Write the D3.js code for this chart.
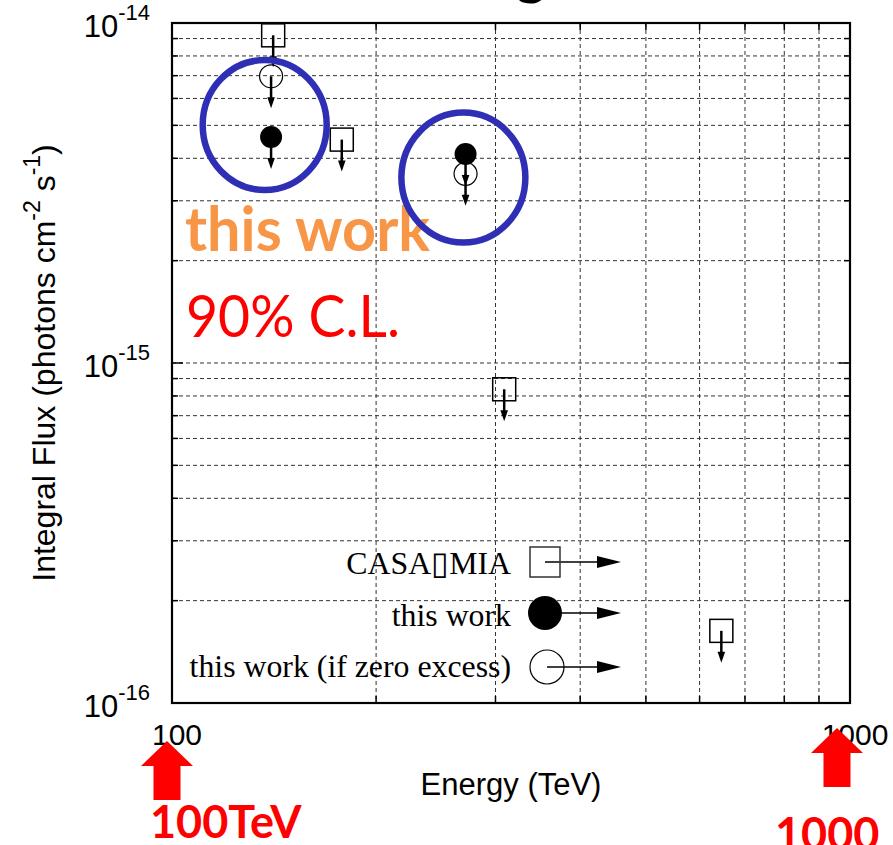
<!DOCTYPE html>
<html><head><meta charset="utf-8">
<script src="https://cdn.jsdelivr.net/npm/d3@7"></script>
<style>html,body{margin:0;padding:0;background:#fff;} svg{display:block;}</style>
</head><body><svg id="chart" width="893" height="845"></svg>
<script>
// Integral flux upper limits (photons cm^-2 s^-1) versus threshold energy (TeV)
const casaEnergy = [141, 178, 309, 646];
const casaFlux = [9.2e-15, 4.54e-15, 8.37e-16, 1.63e-16];
const workEnergy = [140, 271];
const workFlux = [4.62e-15, 4.12e-15];
const zeroEnergy = [140, 271];
const zeroFlux = [6.97e-15, 3.6e-15];

const xDomain = [100, 1000];
const yDomain = [1e-16, 1e-14];
const xTickValues = [100, 1000];
const yTickExponents = [-14, -15, -16];
const legendLabels = ["CASA\u25AFMIA", "this work", "this work (if zero excess)"];

// highlighted results and threshold call-outs
const highlightEnergy = [137, 269];
const highlightFlux = [5.01e-15, 3.51e-15];
const calloutEnergy = [100, 1000];
const calloutLabels = ["100TeV", "1000"];

const svg = d3.select("#chart");
const m = {left: 172, top: 23, right: 850, bottom: 703};

const x = d3.scaleLog().domain(xDomain).range([m.left, m.right]);
const y = d3.scaleLog().domain(yDomain).range([m.bottom, m.top]);

const xMinor = d3.range(2, 10).map(d => d * 100);
const yGrid = [];
for (let e = -16; e < -14; e++) for (let k = 1; k < 10; k++) yGrid.push(k * Math.pow(10, e));
const yGridInner = yGrid.filter(v => v > yDomain[0] * 1.0001);

// dashed grid
const grid = svg.append("g").attr("stroke", "#333").attr("stroke-width", 1).attr("stroke-dasharray", "4,3");
grid.selectAll("line.v").data(xMinor).join("line")
  .attr("x1", d => x(d)).attr("x2", d => x(d)).attr("y1", m.top).attr("y2", m.bottom);
grid.selectAll("line.h").data(yGridInner).join("line")
  .attr("y1", d => y(d)).attr("y2", d => y(d)).attr("x1", m.left).attr("x2", m.right);

// tick marks on all four sides
const isMajorY = v => Math.abs(Math.log10(v) - Math.round(Math.log10(v))) < 1e-6;
const ticks = svg.append("g").attr("stroke", "#000").attr("stroke-width", 1.5);
ticks.selectAll("line.yl").data(yGridInner).join("line")
  .attr("x1", m.left).attr("x2", d => m.left + (isMajorY(d) ? 11 : 6))
  .attr("y1", d => y(d)).attr("y2", d => y(d));
ticks.selectAll("line.yr").data(yGridInner).join("line")
  .attr("x1", m.right).attr("x2", d => m.right - (isMajorY(d) ? 11 : 6))
  .attr("y1", d => y(d)).attr("y2", d => y(d));
ticks.selectAll("line.xb").data(xMinor).join("line")
  .attr("x1", d => x(d)).attr("x2", d => x(d)).attr("y1", m.bottom).attr("y2", m.bottom - 7);
ticks.selectAll("line.xt").data(xMinor).join("line")
  .attr("x1", d => x(d)).attr("x2", d => x(d)).attr("y1", m.top).attr("y2", m.top + 7);

// frame
svg.append("rect").attr("x", m.left).attr("y", m.top)
  .attr("width", m.right - m.left).attr("height", m.bottom - m.top)
  .attr("fill", "none").attr("stroke", "#000").attr("stroke-width", 2.2);

// tick labels
const tickFont = "'Liberation Sans', Arial, sans-serif";
yTickExponents.forEach(e => {
  const t = svg.append("text").attr("x", 150).attr("y", y(Math.pow(10, e)) + 14)
    .attr("text-anchor", "end").attr("font-family", tickFont).attr("font-size", 31).attr("fill", "#000");
  t.append("tspan").text("10");
  t.append("tspan").attr("font-size", 22).attr("dy", -17).text(String(e));
});
svg.selectAll("text.xt").data(xTickValues).join("text")
  .attr("x", d => x(d) + 5).attr("y", 745).attr("text-anchor", "middle")
  .attr("font-family", tickFont).attr("font-size", 30).attr("fill", "#000").text(d => d);

// axis titles
svg.append("text").attr("x", (m.left + m.right) / 2).attr("y", 795).attr("text-anchor", "middle")
  .attr("font-family", tickFont).attr("font-size", 31).text("Energy (TeV)");
const yl = svg.append("text").attr("transform", `translate(55,${(m.top + m.bottom) / 2}) rotate(-90)`)
  .attr("text-anchor", "middle").attr("font-family", tickFont).attr("font-size", 32);
yl.append("tspan").text("Integral Flux (photons cm");
yl.append("tspan").attr("font-size", 23).attr("dy", -15).text("-2");
yl.append("tspan").attr("dy", 15).text(" s");
yl.append("tspan").attr("font-size", 23).attr("dy", -15).text("-1");
yl.append("tspan").attr("dy", 15).text(")");

// downward upper-limit arrow
function downArrow(g, cx, cy) {
  const len = 32, head = 11, hw = 3.8;
  g.append("line").attr("x1", cx).attr("x2", cx).attr("y1", cy).attr("y2", cy + len - head + 1)
    .attr("stroke", "#000").attr("stroke-width", 2.5);
  g.append("path").attr("d", `M${cx - hw},${cy + len - head} L${cx + hw},${cy + len - head} L${cx},${cy + len} Z`)
    .attr("fill", "#000");
}
function rightArrow(g, cx, cy, x2) {
  g.append("line").attr("x1", cx).attr("x2", x2 - 20).attr("y1", cy).attr("y2", cy)
    .attr("stroke", "#000").attr("stroke-width", 1.5);
  g.append("path").attr("d", `M${x2 - 24},${cy - 6} L${x2},${cy} L${x2 - 24},${cy + 6} Z`).attr("fill", "#000");
}

const pts = svg.append("g");
// CASA-MIA squares
casaEnergy.forEach((e, i) => {
  const cx = x(e), cy = y(casaFlux[i]);
  pts.append("rect").attr("x", cx - 11.5).attr("y", cy - 11.5).attr("width", 23).attr("height", 23)
    .attr("fill", "none").attr("stroke", "#000").attr("stroke-width", 1.5);
  downArrow(pts, cx, cy);
});
// this work, filled circles
workEnergy.forEach((e, i) => {
  const cx = x(e), cy = y(workFlux[i]);
  pts.append("circle").attr("cx", cx).attr("cy", cy).attr("r", 11).attr("fill", "#000");
  downArrow(pts, cx, cy);
});
// this work (if zero excess), open circles
zeroEnergy.forEach((e, i) => {
  const cx = x(e), cy = y(zeroFlux[i]);
  pts.append("circle").attr("cx", cx).attr("cy", cy).attr("r", 11.5).attr("fill", "none")
    .attr("stroke", "#000").attr("stroke-width", 1.2);
  downArrow(pts, cx, cy);
});

// legend
const legTextFont = "'Liberation Serif', 'Times New Roman', serif";
const legY = [562, 613, 667];
const legBase = [574, 626, 677];
const leg = svg.append("g");
legendLabels.forEach((lab, i) => {
  leg.append("text").attr("x", 511).attr("y", legBase[i]).attr("text-anchor", "end")
    .attr("font-family", legTextFont).attr("font-size", 31.8).attr("fill", "#000").text(lab);
});
rightArrow(leg, 545, legY[0], 621);
leg.append("rect").attr("x", 530).attr("y", legY[0] - 15).attr("width", 30).attr("height", 30)
  .attr("fill", "none").attr("stroke", "#333").attr("stroke-width", 1.5);
rightArrow(leg, 545, legY[1], 621);
leg.append("circle").attr("cx", 545).attr("cy", legY[1]).attr("r", 17).attr("fill", "#000");
rightArrow(leg, 547, legY[2], 621);
leg.append("circle").attr("cx", 547).attr("cy", legY[2]).attr("r", 17).attr("fill", "none")
  .attr("stroke", "#000").attr("stroke-width", 1.2);

// annotation text
const noteFont = "Lato, 'Open Sans', sans-serif";
svg.append("text").attr("x", 185).attr("y", 251).attr("font-family", noteFont).attr("font-weight", 700)
  .attr("font-size", 61).attr("fill", "#F79646").attr("textLength", 245).attr("lengthAdjust", "spacingAndGlyphs")
  .text("this work");
svg.append("text").attr("x", 186).attr("y", 337).attr("font-family", noteFont).attr("font-weight", 400)
  .attr("font-size", 59).attr("fill", "#FF0000").attr("textLength", 214).attr("lengthAdjust", "spacingAndGlyphs")
  .text("90% C.L.");

// highlight rings
svg.selectAll("ellipse.hl").data(highlightEnergy).join("ellipse")
  .attr("cx", d => x(d)).attr("cy", (d, i) => y(highlightFlux[i]))
  .attr("rx", 62).attr("ry", 65).attr("fill", "none").attr("stroke", "#2F2FB5").attr("stroke-width", 6.5);

// threshold call-outs below the energy axis
const callout = [
  {e: calloutEnergy[0], label: calloutLabels[0], dx: -5, tip: 741, tx: -22, ty: 838},
  {e: calloutEnergy[1], label: calloutLabels[1], dx: -13, tip: 728, tx: -75, ty: 850}
];
callout.forEach(c => {
  const cx = x(c.e) + c.dx, t = c.tip;
  svg.append("path").attr("fill", "#FF0000")
    .attr("d", `M${cx},${t} L${cx + 26},${t + 25} L${cx + 13.5},${t + 25} L${cx + 13.5},${t + 59}
               L${cx - 13.5},${t + 59} L${cx - 13.5},${t + 25} L${cx - 26},${t + 25} Z`);
  svg.append("text").attr("x", x(c.e) + c.tx).attr("y", c.ty).attr("font-family", noteFont)
    .attr("font-weight", 700).attr("font-size", 45).attr("fill", "#FF0000").text(c.label);
});

// title line above the frame (only its descender falls inside the page)
svg.append("text").attr("x", 531).attr("y", -7).attr("text-anchor", "middle").attr("font-family", noteFont)
  .attr("font-weight", 700).attr("font-size", 58).attr("fill", "#000").text("g");
</script>
</body></html>
